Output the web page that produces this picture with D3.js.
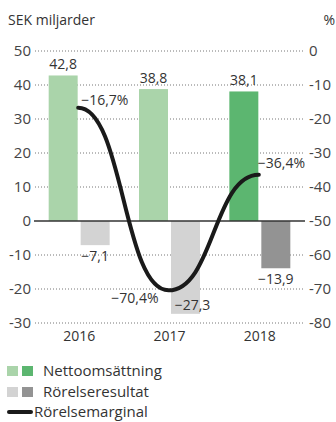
<!DOCTYPE html>
<html>
<head>
<meta charset="utf-8">
<script src="https://cdn.jsdelivr.net/npm/d3@7"></script>
<style>
  body { margin: 0; background: #fff; }
  text { font-family: "Open Sans", sans-serif; fill: #333; }
</style>
</head>
<body>
<div id="chart"></div>
<script>
// data
const years = ["2016", "2017", "2018"];
const netSales = [42.8, 38.8, 38.1];
const operatingResult = [-7.1, -27.3, -13.9];
const operatingMargin = [-16.7, -70.4, -36.4];
const leftTicks = [50, 40, 30, 20, 10, 0, -10, -20, -30];
const rightTicks = [0, -10, -20, -30, -40, -50, -60, -70, -80];

const width = 336, height = 422;
const fmt = v => (v < 0 ? "\u2212" : "") + Math.abs(v).toFixed(1).replace(".", ",");

const svg = d3.select("#chart").append("svg")
    .attr("width", width)
    .attr("height", height);

const x = d3.scaleBand()
    .domain(years)
    .range([34, 305])
    .paddingInner(0.325)
    .paddingOuter(0.1625);

const yL = d3.scaleLinear().domain([-30, 50]).range([323, 51]);
const yR = d3.scaleLinear().domain([-80, 0]).range([323, 51]);

const barW = (x.bandwidth() - 3) / 2;

// titles
svg.append("text").attr("x", 8).attr("y", 25)
    .style("font-size", "14px").text("SEK miljarder");
svg.append("text").attr("x", 335).attr("y", 25).attr("text-anchor", "end")
    .style("font-size", "14px").text("%");

// grid
svg.append("g").selectAll("line")
    .data(leftTicks.filter(d => d !== 0))
    .join("line")
    .attr("x1", 35).attr("x2", 305)
    .attr("y1", d => yL(d)).attr("y2", d => yL(d))
    .attr("stroke", "#777")
    .attr("stroke-width", 1)
    .attr("stroke-dasharray", "1,2");

// left axis labels
svg.append("g").selectAll("text")
    .data(leftTicks)
    .join("text")
    .attr("x", 31)
    .attr("y", d => yL(d) + 5)
    .attr("text-anchor", "end")
    .style("font-size", "15px")
    .style("fill", "#444")
    .text(d => d);

// right axis labels
svg.append("g").selectAll("text")
    .data(rightTicks)
    .join("text")
    .attr("x", 309)
    .attr("y", d => yR(d) + 5)
    .style("font-size", "15px")
    .style("fill", "#444")
    .text(d => d);

// bars
const bars = svg.append("g");
bars.selectAll("rect.sales")
    .data(years)
    .join("rect")
    .attr("class", "sales")
    .attr("x", d => x(d))
    .attr("width", barW)
    .attr("y", (d, i) => yL(netSales[i]))
    .attr("height", (d, i) => yL(0) - yL(netSales[i]))
    .attr("fill", (d, i) => i === years.length - 1 ? "#5cb670" : "#aad4aa");

bars.selectAll("rect.result")
    .data(years)
    .join("rect")
    .attr("class", "result")
    .attr("x", d => x(d) + barW + 3)
    .attr("width", barW)
    .attr("y", yL(0))
    .attr("height", (d, i) => yL(operatingResult[i]) - yL(0))
    .attr("fill", (d, i) => i === years.length - 1 ? "#939393" : "#d3d3d3");

// zero line
svg.append("line")
    .attr("x1", 34).attr("x2", 305)
    .attr("y1", yL(0)).attr("y2", yL(0))
    .attr("stroke", "#333").attr("stroke-width", 1.5);

// bar labels
svg.append("g").selectAll("text")
    .data(years)
    .join("text")
    .attr("x", d => x(d) + barW / 2)
    .attr("y", (d, i) => yL(netSales[i]) - 6)
    .attr("text-anchor", "middle")
    .style("font-size", "14px")
    .text((d, i) => fmt(netSales[i]));

svg.append("g").selectAll("text")
    .data(years)
    .join("text")
    .attr("x", (d, i) => x(d) + barW * 1.5 + 3 + (i === 1 ? 7 : 0))
    .attr("y", (d, i) => yL(operatingResult[i]) + (i === 1 ? -4 : 16))
    .attr("text-anchor", "middle")
    .style("font-size", "14px")
    .text((d, i) => fmt(operatingResult[i]));

// margin line
const px = d => x(d) + x.bandwidth() / 2 - 1;
const line = d3.line()
    .x((d, i) => px(years[i]))
    .y(d => yR(d))
    .curve(d3.curveBumpX);

svg.append("path")
    .datum(operatingMargin)
    .attr("d", line)
    .attr("fill", "none")
    .attr("stroke", "#1a1a1a")
    .attr("stroke-width", 4)
    .attr("stroke-linecap", "round");

const mOff = [{dx: 3, dy: -3, a: "start"}, {dx: -10, dy: 13, a: "end"}, {dx: -1, dy: -7, a: "start"}];
svg.append("g").selectAll("text")
    .data(operatingMargin)
    .join("text")
    .attr("x", (d, i) => px(years[i]) + mOff[i].dx)
    .attr("y", d => yR(d))
    .attr("dy", (d, i) => mOff[i].dy)
    .attr("text-anchor", (d, i) => mOff[i].a)
    .style("font-size", "14px")
    .text(d => fmt(d) + "%");

// year labels
svg.append("g").selectAll("text")
    .data(years)
    .join("text")
    .attr("x", d => x(d) + x.bandwidth() / 2)
    .attr("y", 341)
    .attr("text-anchor", "middle")
    .style("font-size", "14px")
    .text(d => d);

// legend
const legend = svg.append("g");
const legendRows = [
  {label: "Nettoomsättning", colors: ["#aad4aa", "#5cb670"], y: 366},
  {label: "Rörelseresultat", colors: ["#d3d3d3", "#939393"], y: 387}
];
legendRows.forEach(r => {
  r.colors.forEach((c, j) => {
    legend.append("rect")
      .attr("x", 7 + j * 15).attr("y", r.y)
      .attr("width", 11).attr("height", 10)
      .attr("fill", c);
  });
  legend.append("text")
    .attr("x", 43).attr("y", r.y + 10)
    .style("font-size", "15px")
    .text(r.label);
});
legend.append("line")
    .attr("x1", 9).attr("x2", 31)
    .attr("y1", 412).attr("y2", 412)
    .attr("stroke", "#1a1a1a").attr("stroke-width", 4)
    .attr("stroke-linecap", "round");
legend.append("text")
    .attr("x", 34).attr("y", 417)
    .style("font-size", "15px")
    .text("Rörelsemarginal");
</script>
</body>
</html>
